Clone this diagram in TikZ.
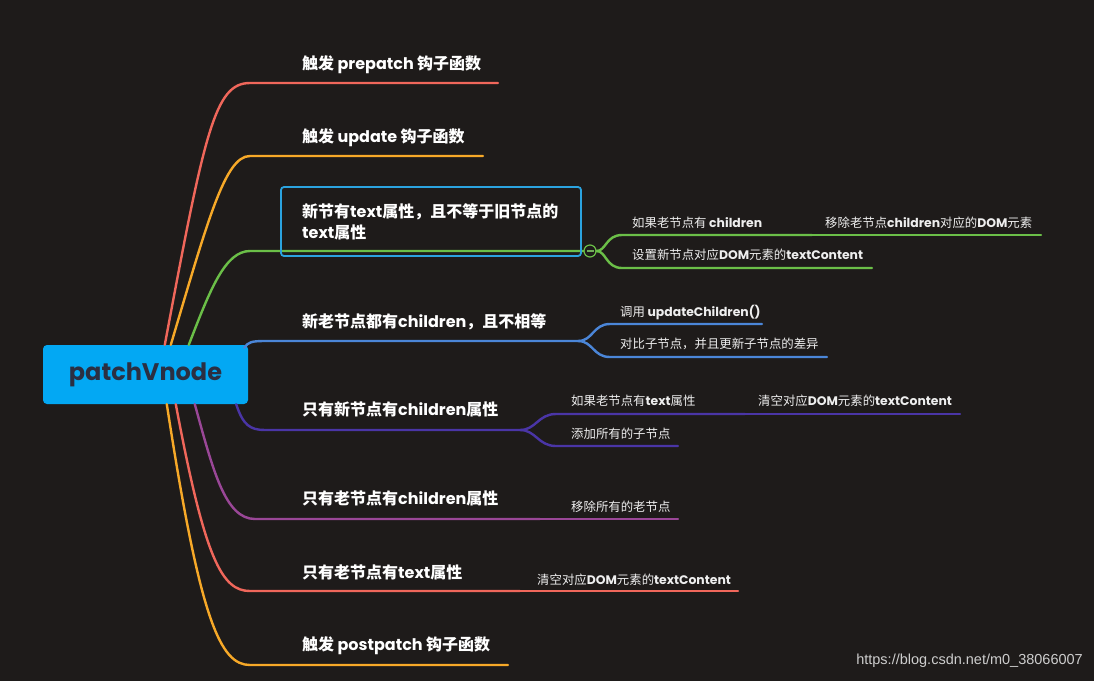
\documentclass[tikz,border=0pt]{standalone}
\usepackage{fontspec}
\setmainfont{Poppins}
\newfontfamily\zh{Noto Sans CJK SC}
\newfontfamily\urlfnt{Liberation Sans}
\newcommand\zb[1]{{\zh #1}}
\newcommand\zs[1]{{\zh\mdseries #1}}
\definecolor{bg}{RGB}{30,27,26}
\definecolor{cred}{RGB}{240,103,91}
\definecolor{corange}{RGB}{247,169,40}
\definecolor{cgreen}{RGB}{107,191,72}
\definecolor{cblue}{RGB}{75,134,216}
\definecolor{cindigo}{RGB}{74,53,166}
\definecolor{cmag}{RGB}{154,71,151}
\definecolor{rootfill}{RGB}{3,168,243}
\definecolor{roottext}{RGB}{43,47,66}
\definecolor{selbox}{RGB}{43,163,223}
\definecolor{subtxt}{RGB}{238,238,238}
\definecolor{urlcol}{RGB}{205,205,205}
\begin{document}
\begin{tikzpicture}[x=1pt,y=-1pt,
  branch/.style={line width=2.4pt, line cap=round},
  maintext/.style={anchor=west, inner sep=0pt, text=white, align=left,
    font=\fontsize{16}{21}\selectfont\bfseries},
  subtext/.style={anchor=west, inner sep=0pt, text=subtxt,
    font=\fontsize{12.4}{15}\selectfont\bfseries},
  rootbox/.style={fill=rootfill, rounded corners=4pt, minimum width=205pt,
    minimum height=59pt, inner sep=0pt, text=roottext,
    font=\fontsize{24}{28}\selectfont\bfseries}]
\fill[bg] (0,0) rectangle (1094,681);
\useasboundingbox (0,0) rectangle (1094,681);

% root
\node[rootbox] (root) at (145.5,374.5) {patchVnode};

% end coordinates
\coordinate (e1) at (498,83);
\coordinate (e2) at (483,156);
\coordinate (e4) at (578,341);
\coordinate (e5) at (520,430);
\coordinate (e6) at (540,519);
\coordinate (e7) at (520,591);
\coordinate (e8) at (508,665);

% branch 1 (red, prepatch)
\draw[branch, cred] ([xshift=122pt]root.north west) .. controls (205,130) and (215,83) .. (250,83) -- (e1);
% branch 2 (orange, update)
\draw[branch, corange] ([xshift=128pt]root.north west) .. controls (208,220) and (225,156) .. (250,156) -- (e2);
% branch 8 (orange, postpatch)
\draw[branch, corange] ([xshift=124pt]root.south west) .. controls (200,620) and (220,665) .. (250,665) -- (e8);
% branch 7 (red, text)
\draw[branch, cred] ([xshift=133pt]root.south west) .. controls (205,560) and (222,591) .. (250,591) -- (e7);
% branch 6 (magenta)
\draw[branch, cmag] ([xshift=152pt]root.south west) .. controls (213,470) and (225,519) .. (255,519) -- (e6);
% branch 5 (indigo)
\draw[branch, cindigo] ([xshift=-12pt]root.south east) .. controls (243,425) and (250,430) .. (265,430) -- (e5);
% branch 4 (blue)
\draw[branch, cblue] ([xshift=-4pt,yshift=-3pt]root.north east) .. controls (248,342) and (252,341) .. (265,341) -- (e4);

% branch 3 (green) with fold marker
\node[circle, draw=cgreen, fill=bg, minimum size=12pt, inner sep=0pt, line width=1.2pt] (fold) at (590,251) {};
\draw[branch, cgreen] ([xshift=146pt]root.north west) .. controls (210,290) and (225,251) .. (250,251) -- (fold.west);
\draw[line width=1.1pt, cgreen!70!gray] ([xshift=-3.5pt]fold.center) -- ([xshift=3.5pt]fold.center);

% selection box
\node[draw=selbox, line width=1.8pt, rounded corners=3pt, minimum width=300pt, minimum height=69pt, inner sep=0pt] (sel) at (431,221.5) {};

% green sub-branches
\coordinate (g1e) at (812,235);
\coordinate (g1ae) at (1041,235);
\coordinate (g2e) at (872,268);
\draw[branch, cgreen] (fold.east) .. controls (606,251) and (606,235) .. (622,235) -- (g1e);
\draw[branch, cgreen] (g1e) -- (g1ae);
\draw[branch, cgreen] (fold.east) .. controls (606,251) and (606,268) .. (622,268) -- (g2e);

% blue sub-branches
\coordinate (b1e) at (762,324);
\coordinate (b2e) at (827,357);
\draw[branch, cblue] (e4) .. controls (593,341) and (593,324) .. (610,324) -- (b1e);
\draw[branch, cblue] (e4) .. controls (593,341) and (593,357) .. (610,357) -- (b2e);

% indigo sub-branches
\coordinate (i1e) at (745,414);
\coordinate (i1ae) at (960,414);
\coordinate (i2e) at (678,446);
\draw[branch, cindigo] (e5) .. controls (536,430) and (538,414) .. (556,414) -- (i1e);
\draw[branch, cindigo] (i1e) -- (i1ae);
\draw[branch, cindigo] (e5) .. controls (536,430) and (538,446) .. (556,446) -- (i2e);

% magenta sub
\coordinate (m1e) at (678,519);
\draw[branch, cmag] (e6) -- (m1e);
% red sub
\coordinate (r1e) at (738,591);
\draw[branch, cred] (e7) -- (r1e);

% main texts
\node[maintext] (t1) at (302,64.5) {\zb{触发} prepatch \zb{钩子函数}};
\node[maintext] (t2) at (302,137.5) {\zb{触发} update \zb{钩子函数}};
\node[maintext] (t3) at (302,222) {\zb{新节有}text\zb{属性，且不等于旧节点的}\\text\zb{属性}};
\node[maintext] (t4) at (302,321.5) {\zb{新老节点都有}children\zb{，且不相等}};
\node[maintext] (t5) at (302,409.5) {\zb{只有新节点有}children\zb{属性}};
\node[maintext] (t6) at (302,498.5) {\zb{只有老节点有}children\zb{属性}};
\node[maintext] (t7) at (302,572.5) {\zb{只有老节点有}text\zb{属性}};
\node[maintext] (t8) at (302,645.5) {\zb{触发} postpatch \zb{钩子函数}};

% sub texts
\node[subtext] (g1) at (632,222.5) {\zs{如果老节点有} children};
\node[subtext] (g1a) at (825,222.5) {\zs{移除老节点}children\zs{对应的}DOM\zs{元素}};
\node[subtext] (g2) at (632,254.5) {\zs{设置新节点对应}DOM\zs{元素的}textContent};
\node[subtext] (b1) at (620,312.5) {\zs{调用} updateChildren()};
\node[subtext] (b2) at (620,343.5) {\zs{对比子节点，并且更新子节点的差异}};
\node[subtext] (i1) at (571,400.5) {\zs{如果老节点有}text\zs{属性}};
\node[subtext] (i1a) at (758,400.5) {\zs{清空对应}DOM\zs{元素的}textContent};
\node[subtext] (i2) at (571,433.5) {\zs{添加所有的子节点}};
\node[subtext] (m1) at (571,506.5) {\zs{移除所有的老节点}};
\node[subtext] (r1) at (537,579.5) {\zs{清空对应}DOM\zs{元素的}textContent};

% watermark
\node[anchor=east, inner sep=0pt, text=urlcol, font=\urlfnt\fontsize{14.5}{16}\selectfont] (url) at (1083,661) {https://blog.csdn.net/m0\_38066007};
\end{tikzpicture}
\end{document}
